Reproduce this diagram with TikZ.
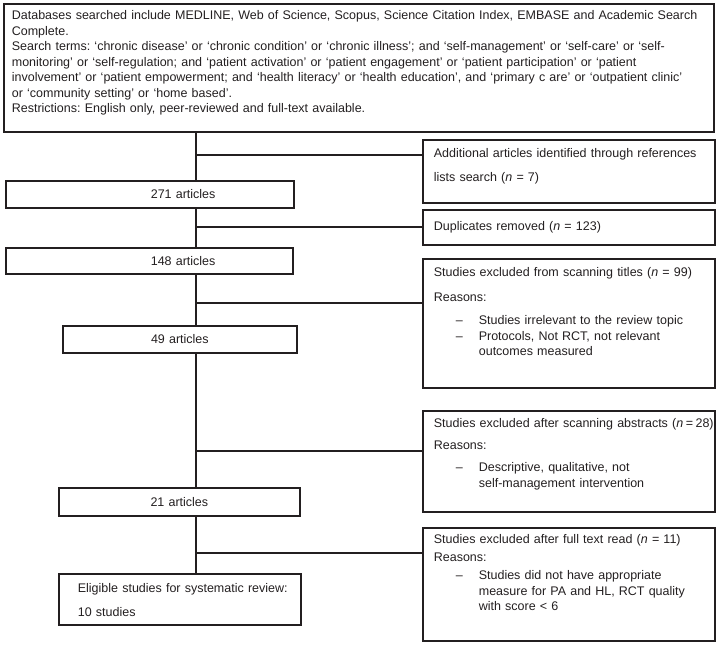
\documentclass[tikz,border=0pt]{standalone}
\usepackage{fontspec}
\setmainfont{Liberation Sans}
\definecolor{ink}{HTML}{231F20}
\newcommand\boxfont{\fontsize{12.5}{15.5}\selectfont\frenchspacing}
\begin{document}
\begin{tikzpicture}[x=1pt, y=-1pt,
    box/.style={draw=ink, line width=1.7pt, anchor=north west, inner sep=0pt,
        align=left, text=ink, font=\boxfont,
        execute at begin node={\leftskip=#1\relax}},
    box/.default=11pt,
    cbox/.style={draw=ink, line width=1.7pt, anchor=north west, inner sep=0pt,
        align=center, text=ink, font=\boxfont},
    link/.style={draw=ink, line width=1.7pt}]
\useasboundingbox (0,0) rectangle (716,650);
% search box
\node[box=8pt, text width=710pt, text height=16pt, text depth=112pt] (search) at (3,3)
{Databases searched include MEDLINE, Web of Science, Scopus, Science Citation Index, EMBASE and Academic Search\\
Complete.\\
Search terms: ‘chronic disease’ or ‘chronic condition’ or ‘chronic illness’; and ‘self-management’ or ‘self-care’ or ‘self-\\
monitoring’ or ‘self-regulation; and ‘patient activation’ or ‘patient engagement’ or ‘patient participation’ or ‘patient\\
involvement’ or ‘patient empowerment; and ‘health literacy’ or ‘health education’, and ‘primary c are’ or ‘outpatient clinic’\\
or ‘community setting’ or ‘home based’.\\
Restrictions: English only, peer-reviewed and full-text available.};
% main column
\node[box=145pt, text width=288pt, minimum height=27pt] (n271) at (5,180) {271 articles};
\node[box=145pt, text width=287pt, minimum height=26pt] (n148) at (5,247) {148 articles};
\node[cbox, text width=234pt, minimum height=27pt] (n49) at (62,325) {49 articles};
\node[cbox, text width=241pt, minimum height=28pt] (n21) at (58,487) {21 articles};
\node[box=19pt, text width=242pt, text height=19pt, text depth=32pt] (elig) at (58,573)
{Eligible studies for systematic review:\\[8.5pt]
10 studies};
% side boxes
\node[box, text width=292pt, text height=18pt, text depth=45pt] (add) at (422,139)
{Additional articles identified through references\\[8.5pt]
lists search (\textit{n} = 7)};
\node[box, text width=292pt, minimum height=35pt] (dup) at (422,209)
{Duplicates removed (\textit{n} = 123)};
\node[box, text width=292pt, text height=18pt, text depth=111pt] (tit) at (422,258)
{Studies excluded from scanning titles (\textit{n} = 99)\\[9.5pt]
Reasons:\\[7.5pt]
\hspace*{22pt}--\hspace{16pt}Studies irrelevant to the review topic\\
\hspace*{22pt}--\hspace{16pt}Protocols, Not RCT, not relevant\\
\hspace*{45pt}outcomes measured};
\node[box, text width=292pt, text height=17pt, text depth=84pt] (abs) at (422,410)
{\mbox{Studies excluded after scanning abstracts (\textit{n}\hspace{2.5pt}=\hspace{2.5pt}28)}\\[6.5pt]
Reasons:\\[6.5pt]
\hspace*{22pt}--\hspace{16pt}Descriptive, qualitative, not\\
\hspace*{45pt}self-management intervention};
\node[box, text width=292pt, text height=16pt, text depth=97pt] (full) at (422,527)
{Studies excluded after full text read (\textit{n} = 11)\\[2pt]
Reasons:\\[3pt]
\hspace*{22pt}--\hspace{16pt}Studies did not have appropriate\\
\hspace*{45pt}measure for PA and HL, RCT quality\\
\hspace*{45pt}with score < 6};
% connectors
\coordinate (trunk) at (196,0);
\foreach \a/\b in {search/n271, n271/n148, n148/n49, n49/n21, n21/elig}
{
    \draw[link] (\a.south -| trunk) -- (\b.north -| trunk);
}
\foreach \y/\b in {155/add, 227/dup, 303/tit, 451/abs, 553/full}
{
    \coordinate (j\b) at (196,\y);
    \draw[link] (j\b) -- (j\b -| \b.west);
}
\end{tikzpicture}
\end{document}
